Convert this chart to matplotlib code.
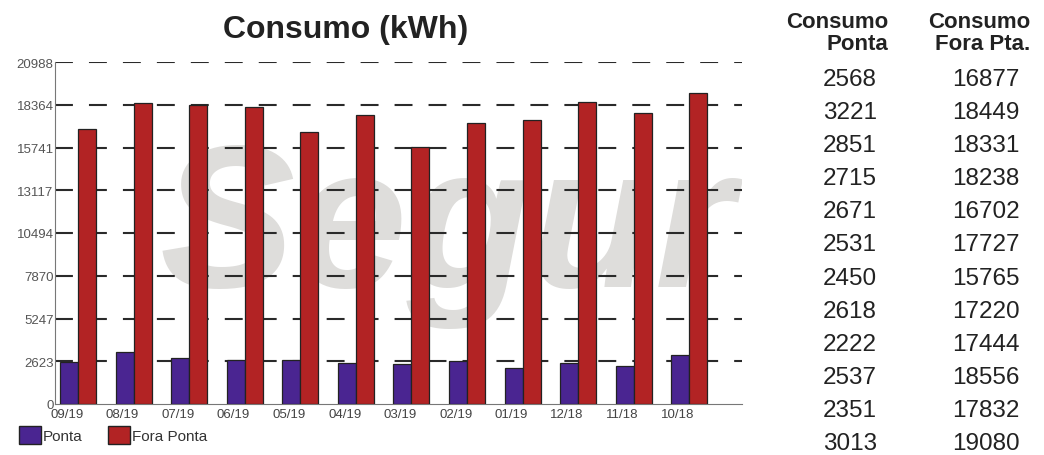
import numpy as np
import matplotlib
matplotlib.use("Agg")
import matplotlib.pyplot as plt
from matplotlib.patches import Patch

plt.rcParams['font.family'] = ['Liberation Sans', 'DejaVu Sans']

# Data
months = ['09/19', '08/19', '07/19', '06/19', '05/19', '04/19',
          '03/19', '02/19', '01/19', '12/18', '11/18', '10/18']
ponta = [2568, 3221, 2851, 2715, 2671, 2531, 2450, 2618, 2222, 2537, 2351, 3013]
fora_ponta = [16877, 18449, 18331, 18238, 16702, 17727, 15765, 17220, 17444, 18556, 17832, 19080]
y_ticks = [0, 2623, 5247, 7870, 10494, 13117, 15741, 18364, 20988]

c_ponta = '#4a2591'
c_fora = '#b22324'

W, H = 1044, 456
fig = plt.figure(figsize=(W / 100, H / 100), dpi=100)
ax = fig.add_axes([55 / W, 51 / H, (742 - 55) / W, 342 / H])

x = np.arange(len(months))
bw = 0.324
ax.bar(x - bw / 2, ponta, bw, color=c_ponta, edgecolor='#222222', linewidth=0.9, zorder=3)
ax.bar(x + bw / 2, fora_ponta, bw, color=c_fora, edgecolor='#222222', linewidth=0.9, zorder=3)

# watermark behind everything
ax.text((160 - 55) / (742 - 55), (405 - 287) / 342, 'Segur',
        transform=ax.transAxes, fontsize=146, fontweight='bold', fontstyle='italic',
        color='#dedddb', ha='left', va='baseline', zorder=0, clip_on=True)

ax.set_xlim(-0.414, 11.95)
ax.set_ylim(0, 20988)
ax.set_yticks(y_ticks)
ax.set_yticklabels([str(v) for v in y_ticks], fontsize=9.5, color='#555555')
ax.set_xticks(x - 0.2)
ax.set_xticklabels(months, fontsize=9.5, color='#444444')
ax.tick_params(axis='both', length=0, pad=1)
ax.tick_params(axis='x', pad=3)

for v in y_ticks[1:]:
    ax.axhline(v, color='#2a2a2a', lw=1.5, linestyle=(0, (8.6, 7.7)), zorder=1)

for s in ['top', 'right']:
    ax.spines[s].set_visible(False)
ax.spines['left'].set_color('#777777')
ax.spines['bottom'].set_color('#777777')

fig.text(346 / W, 1 - 38 / H, 'Consumo (kWh)', fontsize=23, fontweight='bold',
         color='#222222', ha='center', va='baseline')

# legend
handles = [Patch(facecolor=c_ponta, edgecolor='#222222', label='Ponta'),
           Patch(facecolor=c_fora, edgecolor='#222222', label='Fora Ponta')]
fig.legend(handles=handles, loc='lower left', bbox_to_anchor=(11 / W, 3 / H),
           ncol=2, frameon=False, fontsize=11, handlelength=1.45, handleheight=1.45,
           handletextpad=0.1, columnspacing=1.7, borderpad=0, labelcolor='#333333')

# side table
fig.text(888 / W, 1 - 28 / H, 'Consumo', fontsize=16, fontweight='bold', color='#222222',
         ha='right', va='baseline')
fig.text(888 / W, 1 - 50 / H, 'Ponta', fontsize=16, fontweight='bold', color='#222222',
         ha='right', va='baseline')
fig.text(1030 / W, 1 - 28 / H, 'Consumo', fontsize=16, fontweight='bold', color='#222222',
         ha='right', va='baseline')
fig.text(1030 / W, 1 - 50 / H, 'Fora Pta.', fontsize=16, fontweight='bold', color='#222222',
         ha='right', va='baseline')
for i, (p, f) in enumerate(zip(ponta, fora_ponta)):
    yb = 1 - (86 + 33.1 * i) / H
    fig.text(850 / W, yb, str(p), fontsize=17.5, color='#222222', ha='center', va='baseline')
    fig.text(986 / W, yb, str(f), fontsize=17.5, color='#222222', ha='center', va='baseline')

fig.savefig('out.png', dpi=100)
